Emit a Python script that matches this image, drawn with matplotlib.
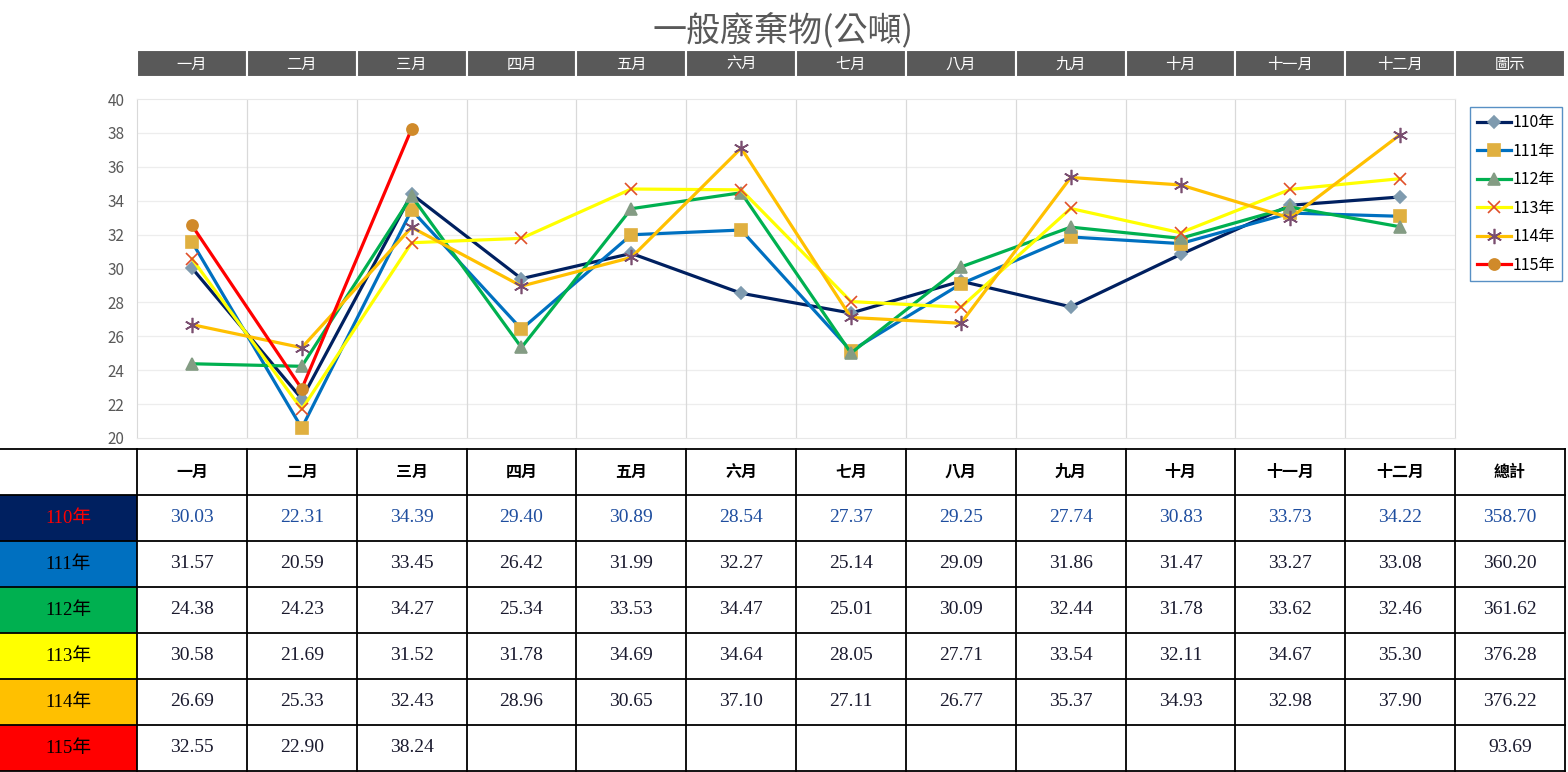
import numpy as np
import matplotlib
matplotlib.use("Agg")
import matplotlib.pyplot as plt
from matplotlib.patches import Rectangle

plt.rcParams['font.family'] = ['Noto Sans CJK TC', 'DejaVu Sans']

months = ['一月', '二月', '三月', '四月', '五月', '六月', '七月', '八月', '九月', '十月', '十一月', '十二月']
years = ['110年', '111年', '112年', '113年', '114年', '115年']

v110 = [30.03, 22.31, 34.39, 29.40, 30.89, 28.54, 27.37, 29.25, 27.74, 30.83, 33.73, 34.22]
v111 = [31.57, 20.59, 33.45, 26.42, 31.99, 32.27, 25.14, 29.09, 31.86, 31.47, 33.27, 33.08]
v112 = [24.38, 24.23, 34.27, 25.34, 33.53, 34.47, 25.01, 30.09, 32.44, 31.78, 33.62, 32.46]
v113 = [30.58, 21.69, 31.52, 31.78, 34.69, 34.64, 28.05, 27.71, 33.54, 32.11, 34.67, 35.30]
v114 = [26.69, 25.33, 32.43, 28.96, 30.65, 37.10, 27.11, 26.77, 35.37, 34.93, 32.98, 37.90]
v115 = [32.55, 22.90, 38.24]
totals = [358.70, 360.20, 361.62, 376.28, 376.22, 93.69]

series = [v110, v111, v112, v113, v114, v115]
line_colors = ['#002060', '#0070C0', '#00B050', '#FFFF00', '#FFC000', '#FF0000']
marker_colors = ['#7F9BAF', '#E0B040', '#849C84', '#E0502A', '#7A4E70', '#D08A2A']
markers = ['D', 's', '^', 'x', (6, 2, 0), 'o']
msizes = [6, 8, 8, 9, 11, 8]
label_text = ['#FF0000', 'black', 'black', 'black', 'black', 'black']

W, H = 1568, 772
fig = plt.figure(figsize=(W / 100, H / 100), dpi=100)

def fx(x):
    return x / W

def fy(y):
    return 1 - y / H

# background layer in pixel coordinates
bg = fig.add_axes([0, 0, 1, 1])
bg.set_xlim(0, W)
bg.set_ylim(H, 0)
bg.axis('off')

x0 = 137
cw = (1565 - x0) / 13
col_edges = [x0 + cw * j for j in range(14)]

# title
fig.text(fx(783), fy(30), '一般廢棄物(公噸)', fontsize=24.5, color='#595959',
         ha='center', va='center')

# gray header bar
heads = months + ['圖示']
for j, h in enumerate(heads):
    bg.add_patch(Rectangle((col_edges[j], 50), cw, 27, facecolor='#595959',
                           edgecolor='white', lw=1.5))
    bg.text(col_edges[j] + cw / 2, 64, h, color='white', fontsize=11,
            ha='center', va='center')

# chart
ax = fig.add_axes([fx(x0), fy(438), fx(col_edges[12] - x0), (438 - 99) / H])
x = np.arange(12)
for i, s in enumerate(series):
    ax.plot(x[:len(s)], s, color=line_colors[i], lw=2.3, marker=markers[i],
            ms=msizes[i], mfc=marker_colors[i], mec=marker_colors[i], mew=1.2,
            label=years[i], zorder=3)
ax.set_xlim(-0.5, 11.5)
ax.set_ylim(20, 40)
ax.set_yticks(np.arange(20, 41, 2))
ax.set_xticks([])
for yv in np.arange(22, 40, 2):
    ax.axhline(yv, color='#EDEDED', lw=0.9, zorder=1)
for xv in np.arange(0.5, 11, 1):
    ax.axvline(xv, color='#D9D9D9', lw=0.9, zorder=1)
for side in ['left', 'right']:
    ax.spines[side].set_color('#D9D9D9')
for side in ['top', 'bottom']:
    ax.spines[side].set_color('#E8E8E8')
ax.tick_params(axis='y', length=0, pad=9, labelsize=11, labelcolor='#595959')

leg = ax.legend(loc='upper left', bbox_to_anchor=(fx(1470), fy(107)),
                bbox_transform=fig.transFigure, fontsize=11.5, frameon=True,
                fancybox=False, edgecolor='#2E75B6', handlelength=2.1,
                handletextpad=0.1, labelspacing=0.72, borderpad=0.45,
                borderaxespad=0, numpoints=1)
leg.get_frame().set_linewidth(1.0)

# data table
ty = 449
rh = 46
for i, yr in enumerate(years):
    top = ty + rh * (i + 1)
    bg.add_patch(Rectangle((0, top), x0, rh, facecolor=line_colors[i], edgecolor='none'))
    bg.text(x0 / 2, top + rh / 2, yr, color=label_text[i], fontsize=13.5,
            family=['Liberation Serif', 'Noto Sans CJK TC'], ha='center', va='center')
    row = series[i]
    num_color = '#1F4E9F' if i == 0 else '#1A1A2E'
    for j, v in enumerate(row):
        bg.text(col_edges[j] + cw / 2, top + rh / 2, f'{v:.2f}', color=num_color,
                fontsize=14, family='Liberation Serif', ha='center', va='center')
    bg.text(col_edges[12] + cw / 2, top + rh / 2, f'{totals[i]:.2f}', color=num_color,
            fontsize=14, family='Liberation Serif', ha='center', va='center')

for j, h in enumerate(months + ['總計']):
    bg.text(col_edges[j] + cw / 2, ty + rh / 2, h, color='black', fontsize=11.5,
            fontweight='bold', ha='center', va='center')

# grid lines of the table
for k in range(8):
    yl = ty + rh * k
    bg.plot([0, col_edges[-1]], [yl, yl], color='black', lw=1.3)
for xe in col_edges:
    bg.plot([xe, xe], [ty, ty + rh * 7], color='black', lw=1.3)

fig.savefig('out.png', dpi=100)
